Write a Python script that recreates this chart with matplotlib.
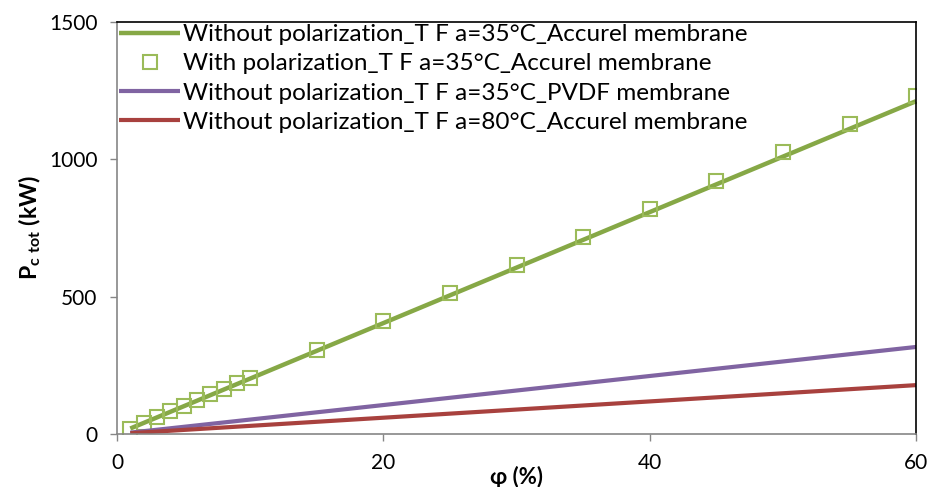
import matplotlib
matplotlib.use("Agg")
import matplotlib.pyplot as plt

plt.rcParams['font.family'] = ['Lato', 'DejaVu Sans']
plt.rcParams['mathtext.fontset'] = 'custom'
plt.rcParams['mathtext.rm'] = 'Lato'
plt.rcParams['mathtext.bf'] = 'Lato:bold'

phi = [1, 2, 3, 4, 5, 6, 7, 8, 9, 10, 15, 20, 25, 30, 35, 40, 45, 50, 55, 60]
phi_line = [1, 60]
green_line = [20, 1212]
green_sq = [20, 41, 62, 82, 103, 123, 144, 164, 185, 205, 307, 410, 513, 615, 717, 820, 922, 1025, 1127, 1230]
purple_line = [5, 317]
red_line = [3, 178]

labels = ["Without polarization_T F a=35°C_Accurel membrane",
          "With polarization_T F a=35°C_Accurel membrane",
          "Without polarization_T F a=35°C_PVDF membrane",
          "Without polarization_T F a=80°C_Accurel membrane"]

fig = plt.figure(figsize=(9.32, 4.87), dpi=100)
ax = fig.add_axes([0.1255, 0.1088, 0.8575, 0.846])

ax.plot(phi_line, green_line, color='#86A846', lw=3.2, label=labels[0], solid_capstyle='butt')
ax.plot(phi, green_sq, ls='none', marker='s', ms=10, mfc='none', mec='#9BBB59', mew=1.5, label=labels[1])
ax.plot(phi_line, purple_line, color='#8064A2', lw=3.0, label=labels[2], solid_capstyle='butt')
ax.plot(phi_line, red_line, color='#A8413E', lw=3.0, label=labels[3], solid_capstyle='butt')

ax.set_xlim(0, 60)
ax.set_ylim(0, 1500)
ax.set_xticks([0, 20, 40, 60])
ax.set_yticks([0, 500, 1000, 1500])
ax.tick_params(direction='out', length=5, width=1, color='#868686', labelsize=15, pad=9)
for s in ['left', 'bottom']:
    ax.spines[s].set_color('#868686')
    ax.spines[s].set_linewidth(1.2)
for s in ['top', 'right']:
    ax.spines[s].set_color('black')
    ax.spines[s].set_linewidth(1.2)

ax.set_xlabel('φ (%)', fontsize=16, fontweight='bold')
ax.xaxis.set_label_coords(0.5, -0.078)
ax.set_ylabel(r'$\mathbf{P_{c\ tot}}$ $\mathbf{(kW)}$', fontsize=16.5, labelpad=4)

leg = ax.legend(loc='upper left', bbox_to_anchor=(0.0, 1.0), frameon=False, fontsize=17.5,
                handlelength=2.5, handletextpad=0.1, labelspacing=0.33, borderaxespad=0.1,
                borderpad=0.0)

fig.savefig('out.png', dpi=100)
